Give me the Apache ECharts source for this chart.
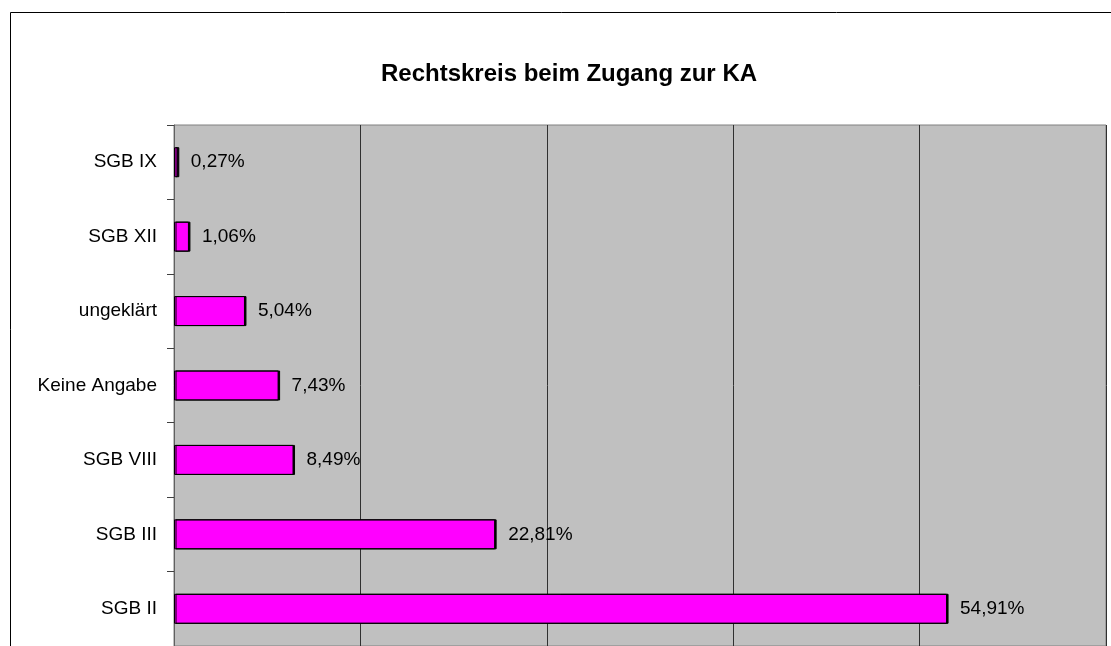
<!DOCTYPE html>
<html>
<head>
<meta charset="utf-8">
<script src="https://cdn.jsdelivr.net/npm/echarts@6/dist/echarts.min.js"></script>
<style>
html,body{margin:0;padding:0;background:#fff;}
#chart{width:1111px;height:646px;}
</style>
</head>
<body>
<div id="chart"></div>
<script>
const categories = ['SGB IX', 'SGB XII', 'ungeklärt', 'Keine Angabe', 'SGB VIII', 'SGB III', 'SGB II'];
const shares = [0.27, 1.06, 5.04, 7.43, 8.49, 22.81, 54.91];
const axisMax = 66.2;
const axisStep = 13.24;

const chart = echarts.init(document.getElementById('chart'));
const fontFam = '"Liberation Sans", Arial, sans-serif';
chart.setOption({
  animation: false,
  title: {
    text: 'Rechtskreis beim Zugang zur KA',
    left: 564,
    textAlign: 'center',
    top: 57,
    textStyle: { fontFamily: fontFam, fontSize: 24, fontWeight: 'bold', color: '#000' }
  },
  graphic: [{
    type: 'rect',
    shape: { x: 10.5, y: 12.5, width: 1300, height: 1000 },
    style: { fill: 'none', stroke: '#000', lineWidth: 1 },
    silent: true, z: -10
  }],
  grid: {
    left: 174, top: 125, right: 5, height: 527,
    show: true, backgroundColor: '#c0c0c0', borderColor: '#808080', borderWidth: 1,
    containLabel: false
  },
  xAxis: {
    type: 'value', min: 0, max: axisMax, interval: axisStep,
    axisLabel: { show: false }, axisTick: { show: false }, axisLine: { show: false },
    splitLine: { show: true, lineStyle: { color: '#303030', width: 1 } }
  },
  yAxis: {
    type: 'category', data: categories, inverse: true,
    axisLine: { show: true, lineStyle: { color: '#606060', width: 1 } },
    axisTick: { show: true, length: 7, lineStyle: { color: '#404040' } },
    axisLabel: { margin: 17, fontFamily: fontFam, fontSize: 19, color: '#000' },
    splitLine: { show: false }
  },
  series: [{
    type: 'bar',
    data: shares,
    barWidth: 30,
    itemStyle: {
      color: '#ff00ff', borderColor: '#000', borderWidth: 1,
      shadowColor: '#000', shadowOffsetX: 1.5, shadowBlur: 0
    },
    label: {
      show: true, position: 'right', distance: 13,
      fontFamily: fontFam, fontSize: 19, color: '#000',
      formatter: p => p.value.toFixed(2).replace('.', ',') + '%'
    }
  }]
});
</script>
</body>
</html>
